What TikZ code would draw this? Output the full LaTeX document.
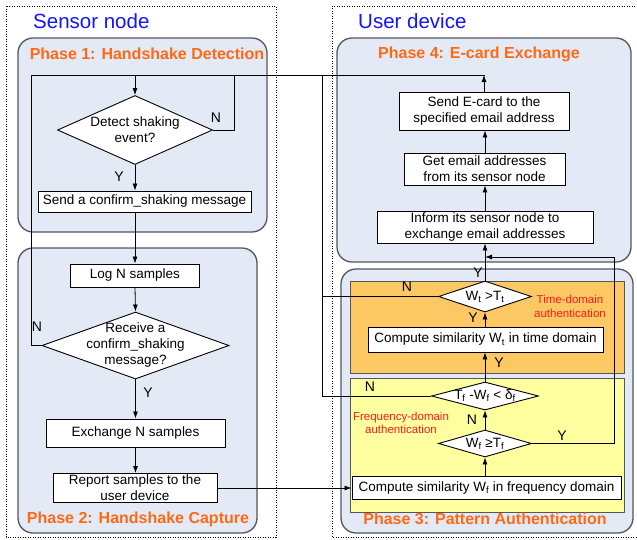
\documentclass[tikz,border=0pt]{standalone}
\usepackage{fontspec}
\setmainfont{Liberation Sans}
\usetikzlibrary{shapes.geometric,arrows.meta}
\definecolor{phasefill}{RGB}{228,234,245}
\definecolor{phaseline}{RGB}{85,85,95}
\definecolor{phasetitle}{RGB}{255,105,20}
\definecolor{timefill}{RGB}{251,200,100}
\definecolor{freqfill}{RGB}{255,255,160}
\definecolor{authred}{RGB}{255,25,25}
\definecolor{sidetitle}{RGB}{20,20,255}
\begin{document}
\begin{tikzpicture}[x=1pt,y=-1pt,
  stepbox/.style={draw=black, line width=0.9pt, fill=white, inner sep=0pt, align=center,
    font=\fontsize{13.5}{16}\selectfont},
  decision/.style={draw=black, line width=0.9pt, fill=white, diamond, inner sep=0pt},
  dtext/.style={inner sep=0pt, align=center, font=\fontsize{13.5}{16}\selectfont},
  phase/.style={draw=phaseline, line width=1.3pt, fill=phasefill, rounded corners=15pt},
  subbox/.style={draw=phaseline, line width=0.9pt},
  phasettl/.style={font=\fontsize{16}{18}\selectfont\bfseries, text=phasetitle, inner sep=0pt},
  sidettl/.style={font=\fontsize{20.5}{22}\selectfont, text=sidetitle, inner sep=0pt, anchor=base west},
  authlbl/.style={font=\fontsize{11.5}{13.5}\selectfont, text=authred, align=center, inner sep=0pt},
  yn/.style={font=\fontsize{14}{16}\selectfont, inner sep=0pt},
  conn/.style={line width=0.8pt, draw=black},
  arr/.style={conn, -{Latex[length=7pt,width=5pt]}},
  outer/.style={draw=black, line width=1pt, dash pattern=on 1pt off 1.5pt}
]
\useasboundingbox (0,0) rectangle (637,539);
\fill[white] (0,0) rectangle (637,539);

% outer dotted frames
\draw[outer] (6,6) rectangle (276,537);
\draw[outer] (640,6) -- (332,6) -- (332,537) -- (640,537);
\node[sidettl] (sensorttl) at (33,28) {Sensor node};
\node[sidettl] (userttl) at (358,28) {User device};

% phase boxes
\draw[phase] (18,38) rectangle (267,232);
\draw[phase] (18,248) rectangle (257,533);
\draw[phase] (337,38) rectangle (631,262);
\draw[phase] (341,269) rectangle (633,533);
\draw[subbox, fill=timefill] (350,281) rectangle (624,373);
\draw[subbox, fill=freqfill] (350,378) rectangle (624,512);

\node[phasettl] (p1) at (147,54) {Phase 1: Handshake Detection};
\node[phasettl] (p2) at (138,519) {Phase 2: Handshake Capture};
\node[phasettl] (p4) at (479,54) {Phase 4: E-card Exchange};
\node[phasettl] (p3) at (485,519) {Phase 3: Pattern Authentication};

\node[authlbl] (tdl) at (570,306.5) {Time-domain\\authentication};
\node[authlbl] (fdl) at (401,423) {Frequency-domain\\authentication};

% sensor node flow
\node[decision, minimum width=155pt, minimum height=69pt] (detect) at (135,130) {};
\node[dtext] (detecttxt) at (detect.center) {Detect shaking\\event?};
\node[stepbox, minimum width=213pt, minimum height=21pt] (confirm) at (144.5,201.5) {Send a confirm\_shaking message};
\node[stepbox, minimum width=129pt, minimum height=23pt] (log) at (135,275.5) {Log N samples};
\node[decision, minimum width=187pt, minimum height=67pt] (receive) at (135.5,345.5) {};
\node[dtext] (receivetxt) at (receive.center) {Receive a\\confirm\_shaking\\message?};
\node[stepbox, minimum width=179pt, minimum height=28pt] (exchange) at (135.5,433) {Exchange N samples};
\node[stepbox, minimum width=164pt, minimum height=29pt] (report) at (135,488) {Report samples to the\\user device};

% user device flow
\node[stepbox, minimum width=170pt, minimum height=38pt] (ecard) at (484,111) {Send E-card to the\\specified email address};
\node[stepbox, minimum width=161pt, minimum height=32pt] (getmail) at (484.5,169) {Get email addresses\\from its sensor node};
\node[stepbox, minimum width=216pt, minimum height=32pt] (inform) at (485,227) {Inform its sensor node to\\exchange email addresses};
\node[decision, minimum width=93pt, minimum height=31pt] (wt) at (485,296.5) {};
\node[dtext] (wttxt) at (wt.center) {W\textsubscript{t} >T\textsubscript{t}};
\node[stepbox, minimum width=235pt, minimum height=25pt] (cwt) at (485.5,339.5) {Compute similarity W\textsubscript{t} in time domain};
\node[decision, minimum width=107pt, minimum height=28pt] (tf) at (485,396) {};
\node[dtext] (tftxt) at (tf.center) {T\textsubscript{f} -W\textsubscript{f} < δ\textsubscript{f}};
\node[decision, minimum width=93pt, minimum height=27pt] (wf) at (485,443.5) {};
\node[dtext] (wftxt) at (wf.center) {W\textsubscript{f} ≥T\textsubscript{f}};
\node[stepbox, minimum width=269pt, minimum height=23pt] (cwf) at (486.5,488) {Compute similarity W\textsubscript{f} in frequency domain};

% loop coordinates
\coordinate (loopL) at (31,75);
\coordinate (loopN) at (234,75);
\coordinate (bus) at (322,75);
\coordinate (loopR) at (485,75);
\coordinate (yret) at (614,257);

% connectors
\draw[conn] (loopL) -- (loopR);
\draw[arr] (detect.north |- loopL) -- (detect.north);
\draw[arr] (ecard.north) -- (ecard.north |- loopR);
\draw[conn] (detect.east) -| (loopN);
\draw[arr] (detect.south) -- (detect.south |- confirm.north);
\draw[arr] (detect.south |- confirm.south) -- (log.north);
\draw[arr] (log.south) -- (receive.north);
\draw[conn] (receive.west) -| (loopL);
\draw[arr] (receive.south) -- (exchange.north);
\draw[arr] (exchange.south) -- (exchange.south |- report.north);
\draw[arr] (report.east) -- (cwf.west);

\draw[arr] (cwf.north -| wf.south) -- (wf.south);
\draw[arr] (wf.north) -- (tf.south);
\draw[arr] (tf.north) -- (tf.north |- cwt.south);
\draw[arr] (tf.north |- cwt.north) -- (wt.south);
\draw[arr] (wt.north) -- (wt.north |- inform.south);
\draw[conn] (wt.west) -| (bus);
\draw[conn] (tf.west) -| (bus);
\draw[arr] (wf.east) -| (yret) -- (yret -| wt.north);
\draw[arr] (wt.north |- inform.north) -- (wt.north |- getmail.south);
\draw[arr] (wt.north |- getmail.north) -- (wt.north |- ecard.south);

% Y/N labels
\node[yn] (n1) at (216,118) {N};
\node[yn] (y1) at (119,177) {Y};
\node[yn] (n2) at (37,327) {N};
\node[yn] (y2) at (148,393) {Y};
\node[yn] (y3) at (478,273) {Y};
\node[yn] (n3) at (407,287) {N};
\node[yn] (y4) at (473,318) {Y};
\node[yn] (y5) at (499,363) {Y};
\node[yn] (n4) at (370,387) {N};
\node[yn] (n5) at (472,420) {N};
\node[yn] (y6) at (562,436) {Y};
\end{tikzpicture}
\end{document}
